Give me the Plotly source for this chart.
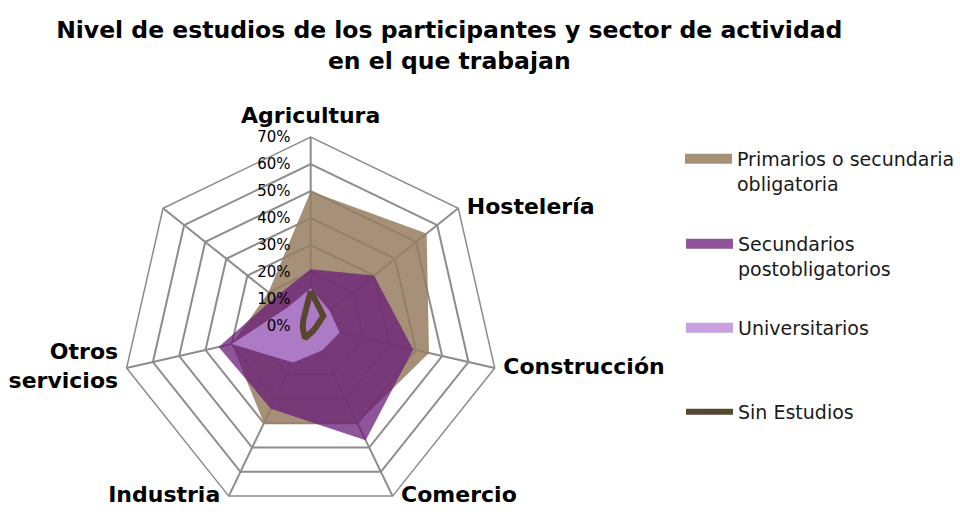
import plotly.graph_objects as go

# Sectors around the radar (the seventh spoke carries no label)
sectores = ["Agricultura", "Hostelería", "Construcción", "Comercio",
            "Industria", "Otros<br>servicios", " "]

# Share of participants per sector (%), by level of studies
primarios = [50, 55, 45, 40, 40, 30, 20]
secundarios = [21, 30, 39, 47, 34, 35, 17]
universitarios = [14, 9, 11, 10, 15, 30, 11]
sin_estudios = [13, 6, 2, 2, 5, 3, 3.5]

nombres = ["Primarios o secundaria<br>obligatoria",
           "Secundarios<br>postobligatorios",
           "Universitarios",
           "Sin Estudios"]

radial_ticks = [0, 10, 20, 30, 40, 50, 60, 70]
R_MAX = radial_ticks[-1]

# Where each sector name sits relative to the outer ring vertex
label_pos = ["top center", "middle right", "middle right", "middle right",
             "middle left", "middle left", "middle left"]

FONT = "DejaVu Sans"
GRID = "#8c8c8c"
PAD = "\u00a0\u00a0\u00a0\u2009"  # gap between tick text and the vertical spoke
colores = ["rgba(150,126,96,0.85)", "rgba(104,28,120,0.75)",
           "rgba(186,139,216,0.80)", "#574730"]
leyendas = ["legend", "legend2", "legend3", "legend4"]

fig = go.Figure()

# Filled areas
for vals, color in zip([primarios, secundarios, universitarios], colores):
    fig.add_trace(go.Scatterpolar(
        r=vals, theta=sectores, mode="lines",
        fill="toself", fillcolor=color,
        line=dict(width=0, color=color),
        showlegend=False, hoverinfo="skip",
    ))

# Outline series
fig.add_trace(go.Scatterpolar(
    r=sin_estudios + sin_estudios[:1],
    theta=sectores + sectores[:1],
    mode="lines", line=dict(color=colores[3], width=6),
    showlegend=False, hoverinfo="skip",
))

# Sector names placed at the outer ring (invisible markers give the offset)
fig.add_trace(go.Scatterpolar(
    r=[R_MAX] * len(sectores), theta=sectores, mode="markers+text",
    marker=dict(size=12, opacity=0),
    text=sectores, textposition=label_pos,
    textfont=dict(family=FONT, size=22, color="#000000", weight="bold"),
    showlegend=False, hoverinfo="skip", cliponaxis=False,
))

# Legend keys (block swatches for the areas, a bar for the outline)
for name, color, leg, w in zip(nombres, colores, leyendas, [11, 11, 11, 6]):
    fig.add_trace(go.Scatterpolar(
        r=[None], theta=[None], mode="lines", name=name,
        line=dict(color=color, width=w),
        legend=leg, showlegend=True, hoverinfo="skip",
    ))

legend_style = dict(
    x=681 / 960, xanchor="left", yanchor="top", valign="top",
    bgcolor="rgba(0,0,0,0)", borderwidth=0,
    font=dict(family=FONT, size=19, color="#1a1a1a"),
    itemwidth=47,
)

fig.update_layout(
    width=960, height=515,
    paper_bgcolor="white",
    showlegend=True,
    margin=dict(l=0, r=0, t=0, b=0),
    title=dict(
        text="<b>Nivel de estudios de los participantes y sector de actividad"
             "<br>en el que trabajan</b>",
        x=0.468, xanchor="center", y=0.926, yanchor="top",
        font=dict(family=FONT, size=23.5, color="#000000"),
    ),
    polar=dict(
        domain=dict(x=[122 / 960, 500 / 960], y=[0, 378 / 515]),
        bgcolor="white",
        gridshape="linear",
        radialaxis=dict(
            range=[0, R_MAX], tickvals=radial_ticks,
            ticktext=[f"{v}%{PAD}" for v in radial_ticks],
            angle=90, side="counterclockwise", tickangle=90,
            showline=False, ticks="",
            gridcolor=GRID, gridwidth=1.5,
            tickfont=dict(family=FONT, size=15, color="#000000"),
        ),
        angularaxis=dict(
            rotation=90, direction="clockwise",
            showline=True, linecolor=GRID, linewidth=1.5,
            gridcolor=GRID, gridwidth=1.5, ticks="",
            showticklabels=False,
        ),
    ),
    legend=dict(y=1 - 140 / 515, **legend_style),
    legend2=dict(y=1 - 225 / 515, **legend_style),
    legend3=dict(y=1 - 309 / 515, **legend_style),
    legend4=dict(y=1 - 393 / 515, **legend_style),
)

fig.write_html("out.html")
